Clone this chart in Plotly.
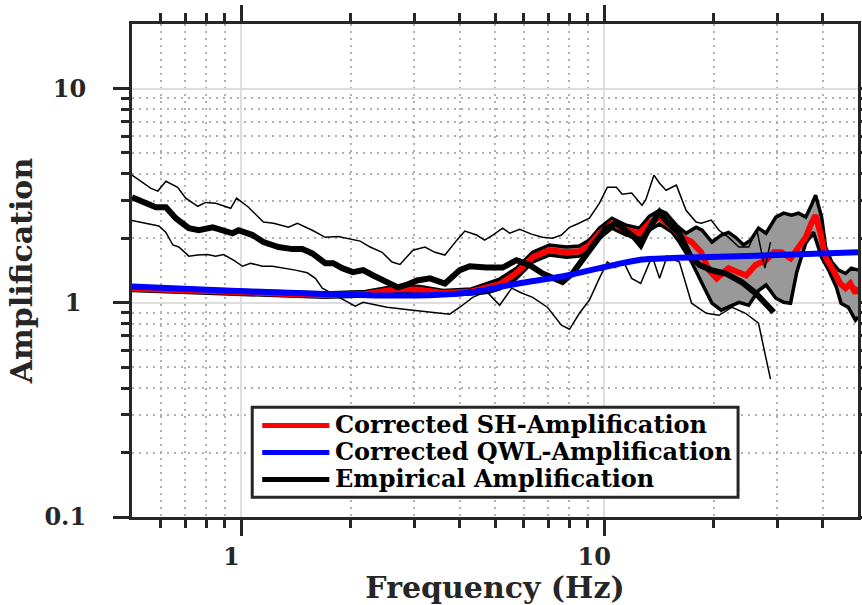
import math
import plotly.graph_objects as go

# ---------------- data ----------------
# Empirical amplification (mean)
freq_emp = [0.5, 0.536, 0.582, 0.62, 0.66, 0.717, 0.764, 0.834, 0.906, 0.946, 0.983, 1.074,
            1.151, 1.266, 1.384, 1.473, 1.569, 1.704, 1.792, 1.897, 2.03, 2.166, 2.31, 2.52,
            2.70, 2.88, 3.05, 3.31, 3.64, 4.0, 4.26, 4.74, 5.25, 5.73, 6.22, 6.76, 7.20,
            7.67, 8.17, 8.70, 9.39, 10.1, 10.8, 11.5, 12.1, 12.6, 13.1, 13.9, 14.2, 14.9,
            16.1, 17.2, 18.3, 19.7, 21.6, 23.9, 26.1, 29.3]
amp_emp = [3.11, 2.94, 2.79, 2.79, 2.48, 2.23, 2.18, 2.25, 2.18, 2.11, 2.18, 2.07,
           1.92, 1.82, 1.78, 1.78, 1.70, 1.53, 1.53, 1.45, 1.39, 1.42, 1.34, 1.25,
           1.18, 1.22, 1.27, 1.30, 1.23, 1.42, 1.48, 1.46, 1.46, 1.58, 1.50, 1.37, 1.30,
           1.25, 1.37, 1.58, 1.90, 2.23, 2.35, 2.18, 2.02, 1.86, 2.13, 2.51, 2.65, 2.38,
           2.11, 1.67, 1.50, 1.42, 1.37, 1.25, 1.11, 0.903]

# Empirical mean + std
freq_emp_hi = [0.5, 0.564, 0.589, 0.62, 0.668, 0.703, 0.759, 0.798, 0.85, 0.935, 0.971, 1.047,
               1.151, 1.227, 1.349, 1.427, 1.569, 1.704, 1.849, 1.995, 2.126, 2.265, 2.443,
               2.602, 2.737, 2.972, 3.206, 3.416, 3.639, 3.926, 4.13, 4.45, 4.68, 4.93, 5.25,
               5.49, 5.85, 6.30, 6.76, 7.20, 7.62, 8.02, 8.43, 9.10, 9.69, 10.2, 10.8, 11.2,
               11.9, 12.7, 13.0, 13.7, 14.2, 14.8, 15.8, 16.8, 17.9, 18.5, 19.7, 20.7, 22.0,
               23.5, 25.0, 26.3, 27.7, 28.7]
amp_emp_hi = [3.94, 3.42, 3.32, 3.69, 3.46, 3.08, 2.82, 2.94, 2.91, 2.76, 3.08, 2.79,
              2.38, 2.35, 2.25, 2.35, 2.18, 2.02, 2.04, 1.98, 1.94, 1.82, 1.72,
              1.55, 1.51, 1.76, 1.82, 1.72, 1.67, 1.96, 2.16, 2.07, 1.96, 2.07, 2.23,
              2.11, 2.20, 2.09, 2.02, 2.00, 2.07, 2.25, 2.33, 2.48, 2.91, 3.46, 3.46, 3.21,
              3.25, 2.85, 3.01, 3.94, 3.61, 3.35, 3.54, 2.70, 2.38, 2.35, 2.43, 2.18, 2.02,
              1.82, 1.82, 2.20, 1.45, 1.92]

# Empirical mean - std
freq_emp_lo = [0.496, 0.546, 0.593, 0.62, 0.648, 0.673, 0.717, 0.759, 0.808, 0.85, 0.894, 0.952,
               1.008, 1.06, 1.144, 1.219, 1.323, 1.41, 1.52, 1.60, 1.672, 1.874, 2.06, 2.166,
               2.52, 2.97, 3.37, 3.75, 4.0, 4.34, 4.74, 5.15, 5.56, 5.92, 6.35, 6.97, 7.62,
               8.02, 8.54, 9.10, 9.69, 10.2, 10.66, 11.35, 11.9, 12.6, 13.55, 14.2, 14.9,
               16.1, 17.4, 19.1, 20.7, 22.5, 24.5, 26.6, 28.7]
amp_emp_lo = [2.43, 2.35, 2.28, 2.13, 1.86, 1.82, 1.65, 1.67, 1.68, 1.65, 1.68, 1.58,
              1.48, 1.53, 1.48, 1.48, 1.45, 1.42, 1.38, 1.30, 1.17, 1.05, 0.963, 1.005,
              0.953, 0.923, 0.903, 0.884, 0.953, 1.06, 1.13, 0.973, 1.17, 1.11, 1.06, 0.953, 0.785,
              0.752, 0.893, 1.03, 1.30, 1.55, 1.46, 1.53, 1.30, 1.23, 1.65, 1.30, 1.65,
              1.55, 0.995, 0.893, 0.874, 0.953, 0.893, 0.802, 0.44]

# Corrected SH amplification
freq_sh = [0.5, 0.9, 1.7, 2.2, 2.7, 3.1, 3.6, 4.3, 4.8, 5.15, 5.7, 6.35, 7.06, 7.86, 8.54,
           9.1, 9.7, 10.5, 11.5, 12.5, 13.3, 14.2, 15.4, 16.4, 17.4, 18.5, 19.4, 20.4, 22.0,
           23.5, 24.6, 26.1, 27.9, 29.3, 30.8, 32.6, 33.9, 35.9, 37.2, 38.2, 39.4, 40.7,
           42.3, 44.7, 46.2, 47.6, 49.2, 50.0]
amp_sh = [1.165, 1.125, 1.085, 1.10, 1.16, 1.15, 1.11, 1.13, 1.18, 1.22, 1.37, 1.63, 1.76, 1.72, 1.74,
          1.86, 2.11, 2.35, 2.18, 2.11, 2.35, 2.51, 2.25, 2.02, 1.92, 1.72, 1.42, 1.30, 1.45,
          1.39, 1.34, 1.50, 1.58, 1.72, 1.72, 1.61, 1.76, 2.02, 2.35, 2.56, 2.11, 1.63,
          1.46, 1.23, 1.17, 1.23, 1.11, 1.18]

# SH uncertainty band, upper and lower edges
freq_band_hi = [0.5, 0.9, 1.7, 2.2, 2.7, 3.1, 3.6, 4.3, 4.8, 5.15, 5.73, 6.35, 7.06, 7.86, 8.54,
                9.1, 9.7, 10.5, 11.5, 12.5, 13.3, 14.2, 14.8, 15.8, 16.8, 17.9, 18.6, 19.8, 21.0,
                22.0, 23.0, 24.2, 25.3, 26.6, 27.9, 29.7, 31.2, 32.8, 34.3, 35.9, 37.2, 38.2,
                39.7, 40.7, 42.3, 44.2, 46.2, 47.9, 50.0]
amp_band_hi = [1.19, 1.15, 1.11, 1.13, 1.20, 1.19, 1.14, 1.16, 1.24, 1.29, 1.45, 1.72, 1.86, 1.82, 1.84,
               1.96, 2.23, 2.48, 2.30, 2.23, 2.53, 2.70, 2.62, 2.30, 2.11, 2.25, 2.18, 1.92, 2.07,
               2.13, 2.02, 1.86, 1.96, 2.23, 2.11, 2.51, 2.62, 2.56, 2.62, 2.51, 2.85, 3.18,
               2.51, 1.82, 1.55, 1.42, 1.37, 1.45, 1.42]
freq_band_lo = [0.5, 0.9, 1.7, 2.2, 2.7, 3.1, 3.6, 4.3, 4.8, 5.15, 5.73, 6.35, 7.06, 7.86, 8.54,
                9.1, 9.7, 10.5, 11.5, 12.5, 13.3, 14.2, 15.4, 16.1, 17.4, 18.6, 19.8, 21.0, 22.0,
                23.5, 25.0, 26.6, 27.9, 29.7, 31.2, 32.6, 33.9, 35.9, 37.7, 39.7, 41.5, 43.6,
                44.9, 47.0, 49.2, 50.0]
amp_band_lo = [1.14, 1.10, 1.06, 1.075, 1.13, 1.12, 1.085, 1.10, 1.12, 1.16, 1.30, 1.55, 1.67, 1.63, 1.65,
               1.76, 2.0, 2.23, 2.07, 2.0, 2.18, 2.33, 2.13, 1.92, 1.55, 1.23, 0.995, 0.923, 0.953,
               1.005, 0.973, 1.14, 1.21, 1.05, 1.005, 0.995, 1.39, 1.90, 2.13, 1.63, 1.42, 1.18,
               0.995, 0.953, 0.829, 0.856]

# Corrected QWL amplification
freq_qwl = [0.5, 0.9, 1.7, 2.5, 3.5, 4.3, 4.9, 5.8, 7.9, 9.7, 11.2, 12.7, 16.0, 30.0, 50.0]
amp_qwl = [1.19, 1.14, 1.10, 1.08, 1.09, 1.12, 1.165, 1.23, 1.34, 1.45, 1.53, 1.59, 1.62, 1.67, 1.72]

x_major = [1, 10]
x_minor = [0.6, 0.7, 0.8, 0.9, 2, 3, 4, 5, 6, 7, 8, 9, 20, 30, 40]
y_major = [0.1, 1, 10]
y_minor = [0.2, 0.3, 0.4, 0.5, 0.6, 0.7, 0.8, 0.9, 2, 3, 4, 5, 6, 7, 8, 9]

legend_labels = ["Corrected SH-Amplification", "Corrected QWL-Amplification", "Empirical Amplification"]
legend_colors = ["#ff0000", "#0000ff", "#000000"]

# ---------------- figure ----------------
FONT = "DejaVu Serif"
INK = "#262626"

fig = go.Figure()

# uncertainty band fill
fig.add_trace(go.Scatter(
    x=freq_band_hi + freq_band_lo[::-1], y=amp_band_hi + amp_band_lo[::-1],
    mode="lines", fill="toself", fillcolor="#999999", line=dict(width=0),
    showlegend=False, hoverinfo="skip"))
for fx, fy in ((freq_band_hi, amp_band_hi), (freq_band_lo, amp_band_lo)):
    fig.add_trace(go.Scatter(x=fx, y=fy, mode="lines", line=dict(color="black", width=3.5),
                             showlegend=False, hoverinfo="skip"))

fig.add_trace(go.Scatter(x=freq_sh, y=amp_sh, mode="lines", name=legend_labels[0],
                         line=dict(color=legend_colors[0], width=6), showlegend=False))

for fx, fy in ((freq_emp_hi, amp_emp_hi), (freq_emp_lo, amp_emp_lo)):
    fig.add_trace(go.Scatter(x=fx, y=fy, mode="lines", line=dict(color="black", width=1.5),
                             showlegend=False, hoverinfo="skip"))

fig.add_trace(go.Scatter(x=freq_emp, y=amp_emp, mode="lines", name=legend_labels[2],
                         line=dict(color=legend_colors[2], width=6), showlegend=False))

fig.add_trace(go.Scatter(x=freq_qwl, y=amp_qwl, mode="lines", name=legend_labels[1],
                         line=dict(color=legend_colors[1], width=6, shape="spline", smoothing=0.6),
                         showlegend=False))

tickfont = dict(family=FONT, size=24, color=INK, weight="bold")
titlefont = dict(family=FONT, size=30, color=INK, weight="bold")

common = dict(
    type="log", showline=True, linewidth=3, linecolor=INK, mirror="ticks",
    ticks="outside", ticklen=16, tickwidth=3, tickcolor=INK,
    showgrid=True, gridcolor="#dedede", gridwidth=2, zeroline=False,
    tickfont=tickfont,
)

fig.update_xaxes(
    **common,
    range=[math.log10(0.5), math.log10(50)],
    tickvals=x_major, ticktext=[str(v) for v in x_major],
    ticklabelshift=-10, ticklabelstandoff=0,
    minor=dict(tickvals=x_minor, ticks="outside", ticklen=8, tickwidth=3, tickcolor=INK,
               showgrid=True, gridcolor="#b0b0b0", gridwidth=2, griddash="2px,5px"),
    title=dict(text="Frequency (Hz)", font=titlefont, standoff=6),
)
fig.update_yaxes(
    **common,
    range=[-1, math.log10(20)],
    tickvals=y_major, ticktext=["0.1", "1\u2009", "10"],
    ticklabelstandoff=22,
    minor=dict(tickvals=y_minor, ticks="outside", ticklen=8, tickwidth=3, tickcolor=INK,
               showgrid=True, gridcolor="#b0b0b0", gridwidth=2, griddash="2px,5px"),
    title=dict(text="Amplification", font=titlefont, standoff=3),
)

# hand-built legend box (tight row spacing like the reference)
box_x0, box_x1, box_y0, box_y1 = 0.1656, 0.8348, 0.040, 0.2227
row_y = [0.1858, 0.1310, 0.0762]
shapes = [dict(type="rect", xref="paper", yref="paper", x0=box_x0, x1=box_x1, y0=box_y0, y1=box_y1,
               line=dict(color=INK, width=3), fillcolor="white", layer="above")]
annotations = []
for lab, col, yy in zip(legend_labels, legend_colors, row_y):
    shapes.append(dict(type="line", xref="paper", yref="paper", x0=0.1794, x1=0.2718, y0=yy, y1=yy,
                       line=dict(color=col, width=5), layer="above"))
    annotations.append(dict(xref="paper", yref="paper", x=0.2765, y=yy + 0.002, text=lab,
                            showarrow=False, xanchor="left", yanchor="middle",
                            font=dict(family=FONT, size=24, color="black", weight="bold")))

fig.update_layout(
    width=862, height=605,
    margin=dict(l=132, r=4, t=24, b=88, autoexpand=False),
    paper_bgcolor="white", plot_bgcolor="white",
    showlegend=False,
    shapes=shapes, annotations=annotations,
)

fig.write_html("out.html")
